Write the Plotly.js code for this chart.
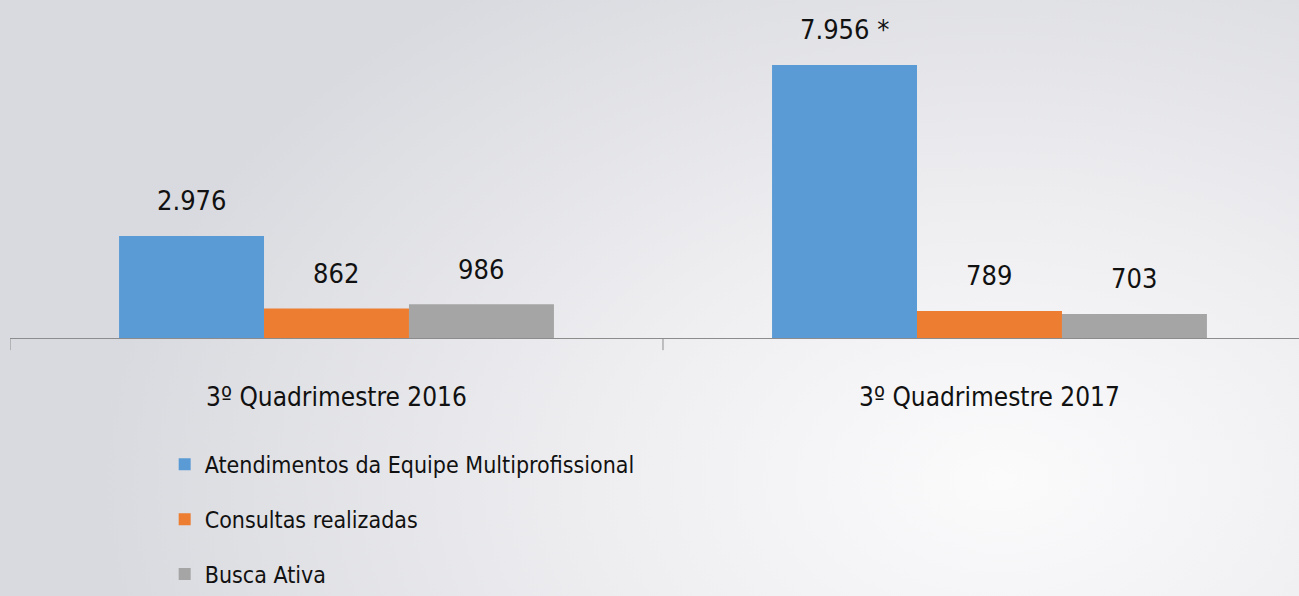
<!DOCTYPE html>
<html>
<head>
<meta charset="utf-8">
<script src="https://cdn.plot.ly/plotly-3.0.1.min.js"></script>
<style>
  html, body { margin: 0; padding: 0; width: 1299px; height: 596px; overflow: hidden;
    background: radial-gradient(ellipse 900px 600px at 1000px 480px, #fbfbfc 0%, #eeeef1 45%, #d9dadf 100%); }
  #chart { width: 1299px; height: 596px; }
</style>
</head>
<body>
<div id="chart"></div>
<script>
const categories = ['3º Quadrimestre 2016', '3º Quadrimestre 2017'];
const seriesNames = ['Atendimentos da Equipe Multiprofissional', 'Consultas realizadas', 'Busca Ativa'];
const atendimentos = [2976, 7956];
const consultas = [862, 789];
const buscaAtiva = [986, 703];
const atendimentosLabels = ['2.976', '7.956 *'];
const consultasLabels = ['862', '789'];
const buscaAtivaLabels = ['986', '703'];

const colors = ['#5B9BD5', '#ED7D31', '#A5A5A5'];
const FONT = '"Liberation Sans Narrow", "DejaVu Sans Condensed", "Open Sans", sans-serif';
const bargap = 0.334;

const allValues = [atendimentos, consultas, buscaAtiva];
const allLabels = [atendimentosLabels, consultasLabels, buscaAtivaLabels];

const traces = allValues.map((vals, k) => ({
  type: 'bar',
  name: seriesNames[k],
  x: [0, 1],
  y: vals,
  marker: { color: colors[k] },
  legendgroup: 'g' + k,
  hoverinfo: 'skip'
}));

const barW = (1 - bargap) / 3;
const annotations = [];
allValues.forEach((vals, k) => {
  vals.forEach((v, i) => {
    annotations.push({
      x: i + (k - 1) * barW, y: v, xref: 'x', yref: 'y',
      text: allLabels[k][i], showarrow: false,
      yanchor: 'middle', yshift: 35,
      font: { family: FONT, size: 27, color: '#111' }
    });
  });
});

const layout = {
  width: 1299, height: 596,
  margin: { l: 10, r: 0, t: 0, b: 258, autoexpand: false },
  paper_bgcolor: 'rgba(0,0,0,0)',
  plot_bgcolor: 'rgba(0,0,0,0)',
  barmode: 'group',
  bargap: bargap,
  bargroupgap: 0,
  showlegend: true,
  legend: {
    orientation: 'v', x: 0.120, xanchor: 'left', y: -0.31, yanchor: 'top',
    font: { family: FONT, size: 23, color: '#111' },
    tracegroupgap: 22, traceorder: 'grouped',
    bgcolor: 'rgba(0,0,0,0)'
  },
  xaxis: {
    type: 'linear',
    range: [-0.5, 1.474],
    tickmode: 'array',
    tickvals: [0, 1],
    ticktext: categories,
    showline: true, linecolor: '#8c8c8c', linewidth: 1,
    ticks: '', showgrid: false, zeroline: false,
    tickfont: { family: FONT, size: 26, color: '#111' },
    ticklabelstandoff: 36
  },
  yaxis: {
    range: [0, 9850],
    showticklabels: false, showgrid: false, zeroline: false, showline: false, ticks: ''
  },
  shapes: [-0.5, 0.5].map(b => ({
    type: 'line', xref: 'x', yref: 'paper', x0: b, x1: b, y0: 0, y1: -0.036,
    line: { color: '#8c8c8c', width: 1 }
  })),
  annotations: annotations
};

Plotly.newPlot('chart', traces, layout, { displayModeBar: false, staticPlot: true });
</script>
</body>
</html>
